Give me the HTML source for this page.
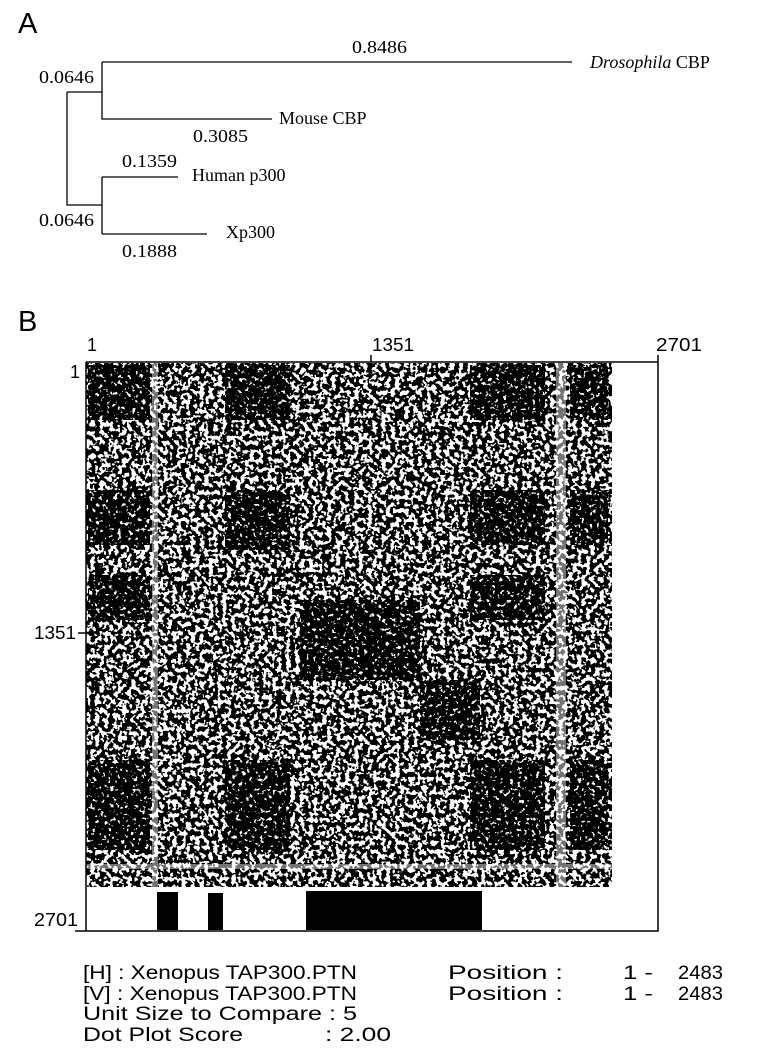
<!DOCTYPE html>
<html><head><meta charset="utf-8"><style>
html,body{margin:0;padding:0;background:#fff;width:777px;height:1053px;overflow:hidden}
svg{display:block}
.s{font-family:"Liberation Serif",serif;font-size:18px;fill:#000}
.a{font-family:"Liberation Sans",sans-serif;fill:#000}
</style></head><body>
<svg width="777" height="1053" viewBox="0 0 777 1053" xmlns="http://www.w3.org/2000/svg">
<defs>
<filter id="n1" x="0" y="0" width="100%" height="100%" color-interpolation-filters="sRGB">
<feTurbulence type="fractalNoise" baseFrequency="0.22" numOctaves="2" seed="3"/>
<feColorMatrix type="matrix" values="0 0 0 0 0  0 0 0 0 0  0 0 0 0 0  -30 0 0 0 16.2"/>
</filter>
<filter id="n2" x="0" y="0" width="100%" height="100%" color-interpolation-filters="sRGB">
<feTurbulence type="fractalNoise" baseFrequency="0.28" numOctaves="2" seed="7"/>
<feColorMatrix type="matrix" values="0 0 0 0 0  0 0 0 0 0  0 0 0 0 0  -30 0 0 0 17.8"/>
</filter>
<clipPath id="dk">
<rect x="88" y="365" width="62" height="55"/><rect x="225" y="365" width="65" height="55"/><rect x="470" y="365" width="75" height="55"/><rect x="570" y="365" width="38" height="55"/>
<rect x="88" y="490" width="62" height="55"/><rect x="225" y="490" width="65" height="60"/><rect x="470" y="490" width="75" height="55"/><rect x="570" y="490" width="38" height="55"/>
<rect x="88" y="575" width="62" height="45"/><rect x="300" y="600" width="120" height="80"/><rect x="470" y="575" width="75" height="45"/>
<rect x="88" y="760" width="62" height="90"/><rect x="225" y="760" width="65" height="90"/><rect x="470" y="760" width="75" height="90"/><rect x="570" y="760" width="38" height="90"/>
<rect x="420" y="680" width="60" height="60"/>
</clipPath>
</defs>

<text class="a" x="18" y="33" font-size="29">A</text>
<g stroke="#000" stroke-width="1.3" fill="none">
<path d="M102 62H572M102 62V119H272M67 92H102M67 92V205H102M102 177V234M102 177H178M102 234H207"/>
</g>
<g class="s">
<text x="352" y="53" textLength="55" lengthAdjust="spacingAndGlyphs">0.8486</text>
<text x="590" y="68"><tspan font-style="italic">Drosophila</tspan> CBP</text>
<text x="39" y="83" textLength="55" lengthAdjust="spacingAndGlyphs">0.0646</text>
<text x="279" y="124">Mouse CBP</text>
<text x="193" y="142" textLength="55" lengthAdjust="spacingAndGlyphs">0.3085</text>
<text x="122" y="167" textLength="55" lengthAdjust="spacingAndGlyphs">0.1359</text>
<text x="192" y="181">Human p300</text>
<text x="39" y="226" textLength="55" lengthAdjust="spacingAndGlyphs">0.0646</text>
<text x="226" y="238">Xp300</text>
<text x="122" y="257" textLength="55" lengthAdjust="spacingAndGlyphs">0.1888</text>
</g>

<text class="a" x="18" y="331" font-size="29">B</text>
<g class="a" font-size="18">
<text x="87" y="351">1</text>
<text x="372" y="351" textLength="42" lengthAdjust="spacingAndGlyphs">1351</text>
<text x="656" y="351" textLength="46" lengthAdjust="spacingAndGlyphs">2701</text>
<text x="70" y="378">1</text>
<text x="34" y="639" textLength="42" lengthAdjust="spacingAndGlyphs">1351</text>
<text x="34" y="926" textLength="44" lengthAdjust="spacingAndGlyphs">2701</text>
</g>

<rect x="86" y="363" width="526" height="524" fill="#fff"/>
<rect x="86" y="363" width="526" height="524" filter="url(#n1)"/>
<g clip-path="url(#dk)"><rect x="86" y="363" width="526" height="524" filter="url(#n2)"/></g>
<g fill="#fff" opacity="0.45">
<rect x="556" y="363" width="10" height="524"/>
<rect x="152" y="363" width="6" height="524"/>
<rect x="86" y="864" width="526" height="5"/>
</g>

<g stroke="#000" stroke-width="1.5" fill="none">
<path d="M86 362H658V931H75M86 362V931M371 355V362M658 355V362M78 633H86"/>
</g>
<rect x="157" y="892" width="21" height="38" fill="#000"/>
<rect x="208" y="893" width="15" height="37" fill="#000"/>
<rect x="306" y="891" width="176" height="39" fill="#000"/>

<g class="a" font-size="19">
<text x="83" y="979" textLength="274" lengthAdjust="spacingAndGlyphs">[H] : Xenopus TAP300.PTN</text>
<text x="83" y="1000" textLength="274" lengthAdjust="spacingAndGlyphs">[V] : Xenopus TAP300.PTN</text>
<text x="83" y="1020" textLength="274" lengthAdjust="spacingAndGlyphs">Unit Size to Compare : 5</text>
<text x="83" y="1041" textLength="160" lengthAdjust="spacingAndGlyphs">Dot Plot Score</text>
<text x="325" y="1041" textLength="66" lengthAdjust="spacingAndGlyphs">: 2.00</text>
<text x="448" y="979" textLength="115" lengthAdjust="spacingAndGlyphs">Position :</text>
<text x="448" y="1000" textLength="115" lengthAdjust="spacingAndGlyphs">Position :</text>
<text x="623" y="979" textLength="30" lengthAdjust="spacingAndGlyphs">1 -</text>
<text x="623" y="1000" textLength="30" lengthAdjust="spacingAndGlyphs">1 -</text>
<text x="678" y="979" textLength="45" lengthAdjust="spacingAndGlyphs">2483</text>
<text x="678" y="1000" textLength="45" lengthAdjust="spacingAndGlyphs">2483</text>
</g>
</svg>
</body></html>
